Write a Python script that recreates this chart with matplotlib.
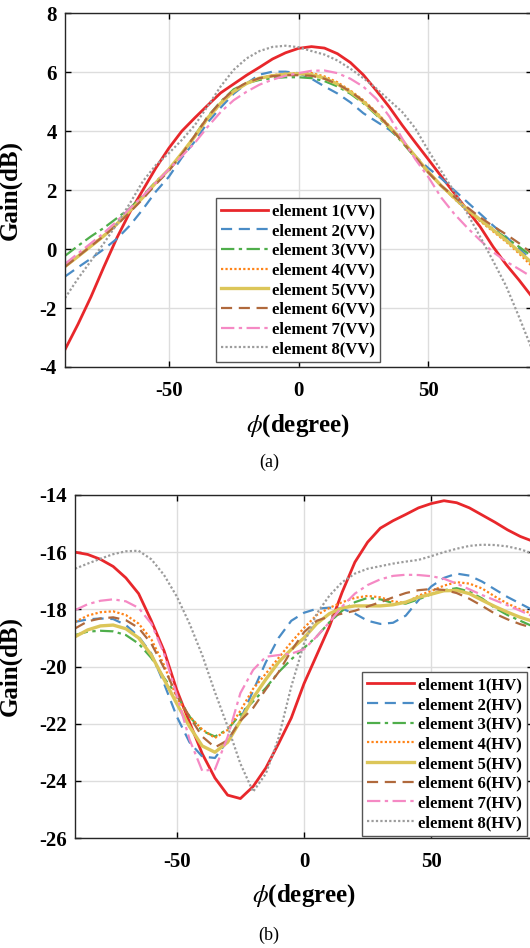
import numpy as np
import matplotlib
matplotlib.use('Agg')
import matplotlib.pyplot as plt

plt.rcParams['font.family'] = ['Liberation Serif', 'DejaVu Serif']
plt.rcParams['mathtext.fontset'] = 'stix'
plt.rcParams['axes.unicode_minus'] = False

# azimuth angle (deg), shared by every curve
phi = np.arange(-90, 91, 5)

# (a) co-polar gain, VV
vv1 = [-3.41, -2.55, -1.62, -0.6, 0.38, 1.25, 2.0, 2.75, 3.42, 4.0, 4.45, 4.88, 5.3, 5.6, 5.9, 6.17, 6.45, 6.66, 6.81,
       6.87, 6.82, 6.63, 6.33, 5.91, 5.38, 4.82, 4.2, 3.62, 3.05, 2.47, 1.9, 1.33, 0.76, 0.08, -0.52, -1.05, -1.62]
vv2 = [-0.93, -0.62, -0.32, 0.0, 0.35, 0.8, 1.35, 1.95, 2.45, 3.1, 3.65, 4.3, 4.8, 5.27, 5.62, 5.92, 6.02, 6.02, 5.97,
       5.78, 5.52, 5.28, 4.98, 4.61, 4.33, 4.05, 3.68, 3.15, 2.75, 2.4, 2.0, 1.6, 1.2, 0.8, 0.42, 0.02, -0.4]
vv3 = [-0.23, 0.11, 0.43, 0.72, 1.05, 1.39, 1.81, 2.29, 2.69, 3.23, 3.85, 4.5, 5.0, 5.42, 5.63, 5.74, 5.8, 5.83, 5.83,
       5.8, 5.7, 5.52, 5.27, 4.95, 4.55, 4.1, 3.62, 3.1, 2.62, 2.15, 1.72, 1.32, 0.98, 0.68, 0.38, 0.08, -0.25]
vv4 = [-0.58, -0.23, 0.12, 0.47, 0.87, 1.3, 1.75, 2.25, 2.7, 3.25, 3.82, 4.42, 4.93, 5.33, 5.62, 5.8, 5.9, 5.95, 5.97,
       5.97, 5.86, 5.66, 5.38, 5.05, 4.65, 4.18, 3.7, 3.15, 2.62, 2.15, 1.72, 1.3, 0.95, 0.6, 0.25, -0.15, -0.58]
vv5 = [-0.59, -0.25, 0.1, 0.45, 0.85, 1.3, 1.75, 2.25, 2.7, 3.25, 3.82, 4.45, 4.95, 5.35, 5.62, 5.8, 5.88, 5.93, 5.95,
       5.92, 5.8, 5.6, 5.33, 5.0, 4.6, 4.15, 3.68, 3.15, 2.62, 2.15, 1.75, 1.35, 1.0, 0.65, 0.3, -0.08, -0.47]
vv6 = [-0.6, -0.25, 0.1, 0.45, 0.82, 1.25, 1.7, 2.2, 2.65, 3.22, 3.85, 4.48, 5.0, 5.4, 5.65, 5.8, 5.87, 5.9, 5.9,
       5.88, 5.78, 5.6, 5.35, 5.02, 4.62, 4.15, 3.65, 3.12, 2.6, 2.15, 1.78, 1.42, 1.08, 0.78, 0.5, 0.2, -0.15]
vv7 = [-0.5, -0.15, 0.2, 0.55, 0.95, 1.38, 1.8, 2.25, 2.7, 3.15, 3.6, 4.15, 4.65, 5.05, 5.34, 5.58, 5.75, 5.88, 5.97,
       6.05, 6.06, 5.97, 5.78, 5.51, 5.1, 4.5, 3.75, 3.05, 2.45, 1.75, 1.2, 0.73, 0.3, -0.1, -0.42, -0.68, -0.95]
vv8 = [-1.66, -1.0, -0.4, 0.2, 0.85, 1.55, 2.3, 2.85, 3.25, 3.7, 4.2, 4.85, 5.52, 6.08, 6.47, 6.72, 6.86, 6.9, 6.85,
       6.72, 6.6, 6.4, 6.12, 5.8, 5.45, 5.05, 4.65, 4.1, 3.35, 2.65, 1.95, 1.22, 0.42, -0.4, -1.25, -2.3, -3.4]

# (b) cross-polar gain, HV
hv1 = [-16.0, -16.08, -16.25, -16.5, -16.9, -17.45, -18.4, -19.45, -20.82, -21.95, -23.05, -23.9, -24.5, -24.62, -24.2,
       -23.55, -22.7, -21.8, -20.6, -19.6, -18.6, -17.4, -16.35, -15.65, -15.16, -14.9, -14.68, -14.45, -14.3, -14.2,
       -14.27, -14.45, -14.7, -14.95, -15.22, -15.45, -15.62]
hv2 = [-18.44, -18.35, -18.32, -18.34, -18.55, -18.95, -19.55, -20.6, -21.75, -22.65, -23.15, -23.2, -22.6, -21.85,
       -20.85, -19.85, -19.0, -18.4, -18.12, -17.98, -17.94, -17.98, -18.15, -18.4, -18.51, -18.47, -18.22, -17.68,
       -17.2, -16.9, -16.75, -16.82, -17.03, -17.3, -17.57, -17.8, -18.03]
hv3 = [-18.9, -18.78, -18.75, -18.77, -18.9, -19.2, -19.7, -20.4, -21.0, -21.75, -22.25, -22.45, -22.2, -21.67, -21.22,
       -20.75, -20.2, -19.75, -19.35, -18.95, -18.45, -18.05, -17.75, -17.6, -17.65, -17.78, -17.8, -17.65, -17.47,
       -17.33, -17.26, -17.38, -17.62, -17.95, -18.2, -18.4, -18.6]
hv4 = [-18.44, -18.22, -18.1, -18.07, -18.2, -18.5, -19.05, -19.95, -21.1, -21.75, -22.2, -22.5, -22.22, -21.55, -20.78,
       -20.25, -19.7, -19.15, -18.65, -18.2, -17.95, -17.75, -17.6, -17.53, -17.58, -17.72, -17.78, -17.52, -17.36,
       -17.17, -17.05, -17.1, -17.27, -17.55, -17.8, -18.0, -18.17]
hv5 = [-18.96, -18.72, -18.58, -18.55, -18.68, -19.0, -19.6, -20.45, -21.3, -22.1, -22.78, -23.0, -22.65, -21.9, -21.1,
       -20.45, -19.85, -19.4, -19.0, -18.5, -18.15, -17.95, -17.88, -17.88, -17.88, -17.84, -17.75, -17.58, -17.47,
       -17.35, -17.34, -17.45, -17.68, -17.9, -18.1, -18.28, -18.42]
hv6 = [-18.67, -18.42, -18.32, -18.28, -18.38, -18.65, -19.2, -20.05, -21.0, -21.75, -22.45, -22.83, -22.58, -21.9,
       -21.45, -20.8, -20.2, -19.45, -18.8, -18.4, -18.25, -18.15, -18.05, -17.9, -17.75, -17.58, -17.43, -17.33, -17.29,
       -17.32, -17.43, -17.63, -17.88, -18.15, -18.35, -18.52, -18.65]
hv7 = [-18.03, -17.82, -17.7, -17.65, -17.72, -17.95, -18.5, -19.55, -21.0, -22.55, -23.65, -23.6, -22.46, -20.93,
       -20.12, -19.66, -19.6, -19.55, -19.4, -18.95, -18.45, -17.9, -17.45, -17.15, -16.95, -16.83, -16.79, -16.8,
       -16.84, -16.93, -17.1, -17.3, -17.5, -17.68, -17.86, -18.05, -18.25]
hv8 = [-16.58, -16.4, -16.23, -16.07, -15.97, -15.95, -16.25, -16.8, -17.55, -18.5, -19.6, -20.9, -22.1, -23.4, -24.38,
       -23.75, -22.5, -20.7, -19.2, -18.15, -17.52, -17.05, -16.75, -16.58, -16.49, -16.4, -16.33, -16.27, -16.14, -16.0,
       -15.88, -15.78, -15.74, -15.75, -15.8, -15.9, -16.05]

vv_labels = ['element %d(VV)' % i for i in range(1, 9)]
hv_labels = ['element %d(HV)' % i for i in range(1, 9)]

colors = ['#e8272b', '#4a8cc6', '#4fae4b', '#ff8418', '#dcc659', '#b0693c', '#f589c4', '#9c9c9c']
styles = ['-', (0, (5, 3)), (0, (6, 2, 1.5, 2)), (0, (1, 1)), '-', (0, (5, 3)), (0, (6, 2, 1.5, 2)), (0, (1, 1))]
widths = [2.0, 1.6, 1.6, 1.6, 2.4, 1.6, 1.6, 1.6]


def style_axes(ax, ylim, yticks):
    ax.set_xlim(-90, 90)
    ax.set_ylim(*ylim)
    ax.set_xticks([-50, 0, 50])
    ax.set_yticks(yticks)
    ax.grid(True, color='#dddddd', linewidth=1.0)
    ax.set_axisbelow(True)
    ax.tick_params(direction='in', length=4, width=1, top=True, right=True, labelsize=15)
    ax.tick_params(axis='x', pad=10)
    ax.tick_params(axis='y', pad=6)
    for lab in ax.get_xticklabels() + ax.get_yticklabels():
        lab.set_fontweight('bold')
    for sp in ax.spines.values():
        sp.set_linewidth(1.0)
        sp.set_color('#262626')


legend_opts = dict(borderaxespad=0, fancybox=False, edgecolor='#555555', framealpha=1, handlelength=2.8,
                   handletextpad=0.25, labelspacing=0.22, borderpad=0.3, prop={'weight': 'bold', 'size': 12})

fig = plt.figure(figsize=(5.30, 9.48), dpi=100)

# top panel (a)
ax1 = fig.add_axes([65 / 530, 1 - 367 / 948, 467 / 530, 353.7 / 948])
for k, ys in enumerate([vv1, vv2, vv3, vv4, vv5, vv6, vv7, vv8]):
    ax1.plot(phi, ys, color=colors[k], linestyle=styles[k], linewidth=widths[k], label=vv_labels[k])
style_axes(ax1, (-4, 8), [-4, -2, 0, 2, 4, 6, 8])
ax1.set_ylabel('Gain(dB)', fontsize=18, fontweight='bold')
ax1.yaxis.set_label_coords(-0.092, 0.5)
ax1.set_xlabel(r'$\phi$(degree)', fontsize=18, fontweight='bold')
ax1.xaxis.set_label_coords(0.5, -0.128)
leg1 = ax1.legend(loc='lower left', bbox_to_anchor=(0.323, 0.014), **legend_opts)
leg1.get_frame().set_linewidth(1.0)

# bottom panel (b)
ax2 = fig.add_axes([75 / 530, 1 - 838 / 948, 458 / 530, 343 / 948])
for k, ys in enumerate([hv1, hv2, hv3, hv4, hv5, hv6, hv7, hv8]):
    ax2.plot(phi, ys, color=colors[k], linestyle=styles[k], linewidth=widths[k], label=hv_labels[k])
style_axes(ax2, (-26, -14), [-26, -24, -22, -20, -18, -16, -14])
ax2.set_ylabel('Gain(dB)', fontsize=18, fontweight='bold')
ax2.yaxis.set_label_coords(-0.116, 0.5)
ax2.set_xlabel(r'$\phi$(degree)', fontsize=18, fontweight='bold')
ax2.xaxis.set_label_coords(0.5, -0.13)
leg2 = ax2.legend(loc='lower right', bbox_to_anchor=(0.987, 0.006), **legend_opts)
leg2.get_frame().set_linewidth(1.0)

fig.text(269 / 530, 1 - 462 / 948, '(a)', ha='center', va='center', fontsize=13)
fig.text(269 / 530, 1 - 935 / 948, '(b)', ha='center', va='center', fontsize=13)

fig.savefig('out.png', dpi=100)
